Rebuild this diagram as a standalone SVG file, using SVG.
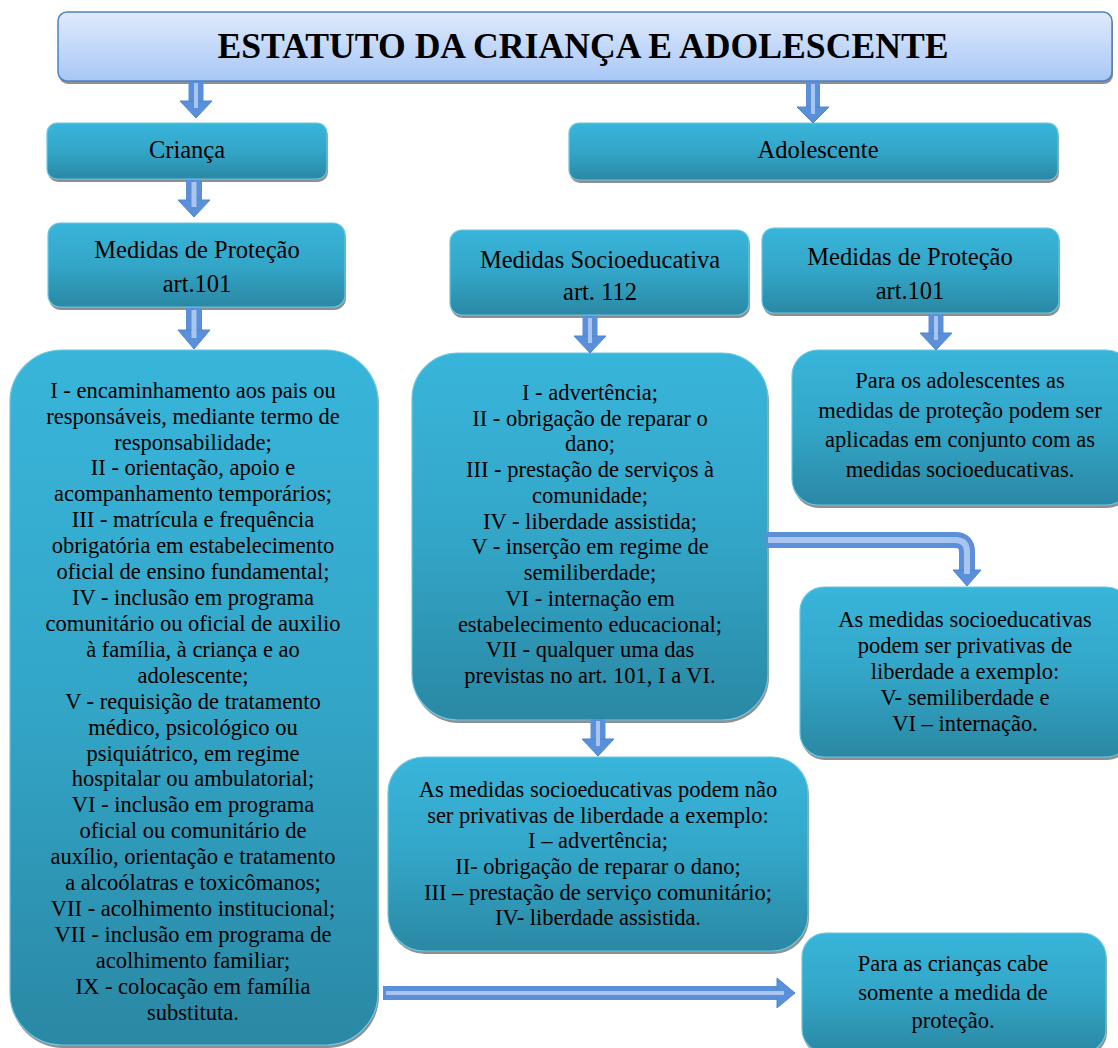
<svg xmlns="http://www.w3.org/2000/svg" width="1118" height="1048" viewBox="0 0 1118 1048">
<defs>
<linearGradient id="gBox" x1="0" y1="0" x2="0" y2="1">
<stop offset="0" stop-color="#38b5da"/>
<stop offset="0.5" stop-color="#33a6c8"/>
<stop offset="1" stop-color="#2a88a4"/>
</linearGradient>
<linearGradient id="gTitle" x1="0" y1="0" x2="0" y2="1">
<stop offset="0" stop-color="#dfeafc"/>
<stop offset="1" stop-color="#a8c7f6"/>
</linearGradient>
</defs>
<style>
.box{fill:url(#gBox);stroke:#6cc6e2;stroke-width:1.2}
.sh{fill:#8f8f8f}
.t{font-family:"Liberation Serif","Times New Roman",serif;fill:#000;text-anchor:middle}
.h{font-size:24.5px}
.b{font-size:22.5px}
.ttl{font-size:36px;font-weight:bold}
.ao{fill:none;stroke:#5a8fd9;stroke-linejoin:round}
.ai{fill:none;stroke:#a9c4ee;stroke-linecap:butt}
.ah{fill:#5a8fd9;stroke:#4f86d2;stroke-width:1}
</style>

<g id="title">
<rect class="sh" x="59" y="15" width="1054" height="69" rx="9"/>
<rect x="58" y="12" width="1054" height="69" rx="9" fill="url(#gTitle)" stroke="#4f81c5" stroke-width="1.5"/>
<text class="t ttl" x="583" y="58" textLength="731" lengthAdjust="spacingAndGlyphs">ESTATUTO DA CRIANÇA E ADOLESCENTE</text>
</g>

<g id="crianca">
<rect class="sh" x="48" y="126" width="280" height="56" rx="10"/>
<rect class="box" x="47" y="123" width="280" height="56" rx="10"/>
<text class="t h" x="187" y="158">Criança</text>
</g>

<g id="adolescente">
<rect class="sh" x="570" y="126" width="489" height="57" rx="10"/>
<rect class="box" x="569" y="123" width="489" height="57" rx="10"/>
<text class="t h" x="818" y="158">Adolescente</text>
</g>

<g id="protecao-crianca">
<rect class="sh" x="49" y="226" width="297" height="84" rx="12"/>
<rect class="box" x="48" y="223" width="297" height="84" rx="12"/>
<text class="t h" x="197" y="258">Medidas de Proteção</text>
<text class="t h" x="197" y="292">art.101</text>
</g>

<g id="socioeducativa">
<rect class="sh" x="451" y="233" width="299" height="85" rx="12"/>
<rect class="box" x="450" y="230" width="299" height="85" rx="12"/>
<text class="t h" x="600" y="268">Medidas Socioeducativa</text>
<text class="t h" x="600" y="300">art. 112</text>
</g>

<g id="protecao-adolescente">
<rect class="sh" x="763" y="231" width="297" height="85" rx="12"/>
<rect class="box" x="762" y="228" width="297" height="85" rx="12"/>
<text class="t h" x="910" y="265">Medidas de Proteção</text>
<text class="t h" x="910" y="299">art.101</text>
</g>

<g id="lista-protecao">
<rect class="sh" x="11" y="353" width="368" height="695" rx="52"/>
<rect class="box" x="10" y="350" width="368" height="695" rx="52"/>
<g class="t b">
<text x="193" y="398">I - encaminhamento aos pais ou</text>
<text x="193" y="424">responsáveis, mediante termo de</text>
<text x="193" y="450">responsabilidade;</text>
<text x="193" y="475">II - orientação, apoio e</text>
<text x="193" y="501">acompanhamento temporários;</text>
<text x="193" y="527">III - matrícula e frequência</text>
<text x="193" y="553">obrigatória em estabelecimento</text>
<text x="193" y="579">oficial de ensino fundamental;</text>
<text x="193" y="605">IV - inclusão em programa</text>
<text x="193" y="631">comunitário ou oficial de auxilio</text>
<text x="193" y="657">à família, à criança e ao</text>
<text x="193" y="683">adolescente;</text>
<text x="193" y="709">V - requisição de tratamento</text>
<text x="193" y="735">médico, psicológico ou</text>
<text x="193" y="761">psiquiátrico, em regime</text>
<text x="193" y="786">hospitalar ou ambulatorial;</text>
<text x="193" y="812">VI - inclusão em programa</text>
<text x="193" y="838">oficial ou comunitário de</text>
<text x="193" y="864">auxílio, orientação e tratamento</text>
<text x="193" y="890">a alcoólatras e toxicômanos;</text>
<text x="193" y="916">VII - acolhimento institucional;</text>
<text x="193" y="942">VII - inclusão em programa de</text>
<text x="193" y="968">acolhimento familiar;</text>
<text x="193" y="994">IX - colocação em família</text>
<text x="193" y="1020">substituta.</text>
</g>
</g>

<g id="lista-socioeducativa">
<rect class="sh" x="413" y="356" width="356" height="367" rx="46"/>
<rect class="box" x="412" y="353" width="356" height="367" rx="46"/>
<g class="t b">
<text x="590" y="400">I - advertência;</text>
<text x="590" y="426">II - obrigação de reparar o</text>
<text x="590" y="451">dano;</text>
<text x="590" y="477">III - prestação de serviços à</text>
<text x="590" y="503">comunidade;</text>
<text x="590" y="529">IV - liberdade assistida;</text>
<text x="590" y="554">V - inserção em regime de</text>
<text x="590" y="580">semiliberdade;</text>
<text x="590" y="606">VI - internação em</text>
<text x="590" y="632">estabelecimento educacional;</text>
<text x="590" y="657">VII - qualquer uma das</text>
<text x="590" y="683">previstas no art. 101, I a VI.</text>
</g>
</g>

<g id="conjunto">
<rect class="sh" x="793" y="353" width="340" height="155" rx="26"/>
<rect class="box" x="792" y="350" width="340" height="155" rx="26"/>
<g class="t b">
<text x="960" y="388">Para os adolescentes as</text>
<text x="960" y="418">medidas de proteção podem ser</text>
<text x="960" y="447">aplicadas em conjunto com as</text>
<text x="960" y="477">medidas socioeducativas.</text>
</g>
</g>

<g id="privativas">
<rect class="sh" x="801" y="590" width="330" height="170" rx="24"/>
<rect class="box" x="800" y="587" width="330" height="170" rx="24"/>
<g class="t b">
<text x="965" y="627">As medidas socioeducativas</text>
<text x="965" y="653">podem ser privativas de</text>
<text x="965" y="679">liberdade a exemplo:</text>
<text x="965" y="705">V- semiliberdade e</text>
<text x="965" y="731">VI – internação.</text>
</g>
</g>

<g id="nao-privativas">
<rect class="sh" x="389" y="760" width="420" height="194" rx="36"/>
<rect class="box" x="388" y="757" width="420" height="194" rx="36"/>
<g class="t b">
<text x="598" y="797">As medidas socioeducativas podem não</text>
<text x="598" y="823">ser privativas de liberdade a exemplo:</text>
<text x="598" y="848">I – advertência;</text>
<text x="598" y="874">II- obrigação de reparar o dano;</text>
<text x="598" y="900">III – prestação de serviço comunitário;</text>
<text x="598" y="925">IV- liberdade assistida.</text>
</g>
</g>

<g id="criancas-protecao">
<rect class="sh" x="803" y="936" width="304" height="120" rx="24"/>
<rect class="box" x="802" y="933" width="304" height="120" rx="24"/>
<g class="t b">
<text x="953" y="971">Para as crianças cabe</text>
<text x="953" y="1000">somente a medida de</text>
<text x="953" y="1028">proteção.</text>
</g>
</g>

<g id="connectors">
<!-- vertical arrows: shaft + head + highlight -->
<g>
<path class="ao" stroke-width="15" d="M196 82 V102"/>
<polygon class="ah" points="180,101 212,101 196,118"/>
<path class="ai" stroke-width="4" d="M196 83 V108"/>
</g>
<g>
<path class="ao" stroke-width="14" d="M813 82 V108"/>
<polygon class="ah" points="797,107 829,107 813,123"/>
<path class="ai" stroke-width="4" d="M813 84 V114"/>
</g>
<g>
<path class="ao" stroke-width="16" d="M194 180 V201"/>
<polygon class="ah" points="178,200 210,200 194,217"/>
<path class="ai" stroke-width="5" d="M194 182 V207"/>
</g>
<g>
<path class="ao" stroke-width="16" d="M194 308 V331"/>
<polygon class="ah" points="178,330 210,330 194,349"/>
<path class="ai" stroke-width="5" d="M194 310 V338"/>
</g>
<g>
<path class="ao" stroke-width="15" d="M590 316 V337"/>
<polygon class="ah" points="574,336 606,336 590,353"/>
<path class="ai" stroke-width="4" d="M590 318 V343"/>
</g>
<g>
<path class="ao" stroke-width="15" d="M936 314 V334"/>
<polygon class="ah" points="920,333 952,333 936,350"/>
<path class="ai" stroke-width="4" d="M936 316 V340"/>
</g>
<g>
<path class="ao" stroke-width="15" d="M598 719 V740"/>
<polygon class="ah" points="582,739 614,739 598,756"/>
<path class="ai" stroke-width="4" d="M598 721 V746"/>
</g>
<!-- bent arrow -->
<g>
<path class="ao" stroke-width="16" d="M766 540 H955 Q967 540 967 552 V571"/>
<polygon class="ah" points="953,570 981,570 967,586"/>
<path class="ai" stroke-width="6" d="M768 540 H955 Q967 540 967 552 V574"/>
</g>
<!-- horizontal bottom arrow -->
<g>
<path class="ao" stroke-width="14" d="M383 993 H778"/>
<polygon class="ah" points="777,978 777,1008 795,993"/>
<path class="ai" stroke-width="4" d="M386 993 H784"/>
</g>
</g>
</svg>
